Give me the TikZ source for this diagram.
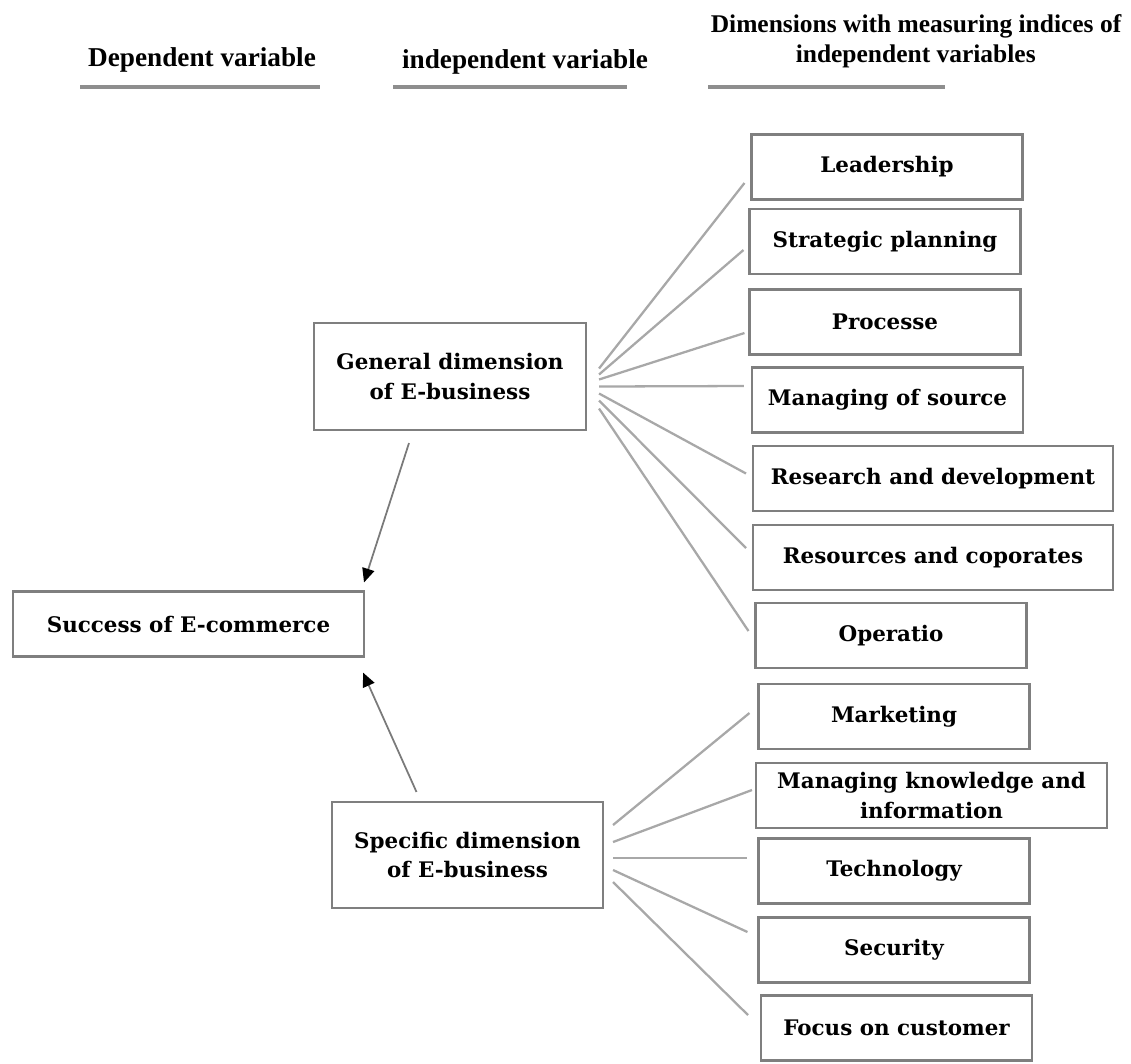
\documentclass[tikz,border=0pt]{standalone}
\usepackage{fontspec}
\setmainfont{DejaVu Serif}
\newfontfamily\headfont{Liberation Serif}
\usepackage{xcolor}
\definecolor{framegray}{HTML}{7F7F7F}
\definecolor{spokegray}{HTML}{A8A8A8}
\definecolor{rulegray}{HTML}{8E8E8E}
\definecolor{arrowgray}{HTML}{7A7A7A}
\usepackage{tikz}
\usetikzlibrary{arrows.meta, positioning, calc}

\begin{document}
\begin{tikzpicture}[
  x=0.02cm, y=-0.02cm,
  box/.style={draw=framegray, line width=1.2pt, fill=white,
    minimum width=#1, minimum height=1.3cm, inner sep=2pt,
    font=\bfseries\fontsize{12.2}{17}\selectfont, align=center},
  box/.default=5.42cm,
  head/.style={font=\headfont\bfseries\fontsize{15.5}{18}\selectfont},
  rulebar/.style={rulegray, line width=2.6pt},
  spoke/.style={spokegray, line width=1.3pt},
  feed/.style={arrowgray, line width=1pt, ->},
  >={Triangle[length=8pt, width=7pt, color=black]}
]
  \useasboundingbox (0,0) rectangle (1131,1063);

  % column headings
  \node[head] (depvar) at (202,60) {Dependent variable};
  \node[head] (indvar) at (525,62) {independent variable};
  \node[head, font=\headfont\bfseries\fontsize{14.5}{17}\selectfont, align=left]
    (dimvar) at (916,41)
    {Dimensions with measuring indices of\\\hspace*{1.7cm}independent variables};
  \draw[rulebar] (80,87) -- (320,87);
  \draw[rulebar] (393,87) -- (627,87);
  \draw[rulebar] (708,87) -- (945,87);

  % left part
  \node[box=7.02cm] (succ) at (188.5,624) {Success of E-commerce};
  \node[box=5.44cm, minimum height=2.14cm] (gen) at (450,376.5)
    {General dimension\\of E-business};
  \node[box=5.42cm, minimum height=2.12cm] (spec) at (467.5,855)
    {Specific dimension\\of E-business};

  % general indices
  \node[box] (lead) at (887,167) {Leadership};
  \node[box] (strat) at (885,241.5) {Strategic planning};
  \node[box] (proc) at (885,322) {Processe};
  \node[box] (msrc) at (887.5,400) {Managing of source};
  \node[box=7.2cm] (resd) at (933,478.5) {Research and development};
  \node[box=7.2cm] (resc) at (933,557.5) {Resources and coporates};
  \node[box] (oper) at (891,635.5) {Operatio};

  % specific indices
  \node[box] (mark) at (894,716.5) {Marketing};
  \node[box=7.02cm] (mknow) at (931.5,795.5) {Managing knowledge and\\information};
  \node[box] (tech) at (894,871) {Technology};
  \node[box] (secu) at (894,950) {Security};
  \node[box] (focus) at (896.5,1028) {Focus on customer};

  \coordinate (genfan) at ($(gen.east)+(12,10)$);
  \coordinate (specfan) at ($(spec.east)+(9,3)$);

  \draw[spoke] ($(genfan)+(0,-18)$) -- ($(lead.west)+(-6,16)$);
  \draw[spoke] ($(genfan)+(0,-12)$) -- ($(strat.west)+(-5,8.5)$);
  \draw[spoke] ($(genfan)+(0,-7)$) -- ($(proc.west)+(-4,11)$);
  \draw[spoke] (genfan) -- ($(msrc.west)+(-7,-14)$);
  \draw[spoke] ($(genfan)+(0,7)$) -- ($(resd.west)+(-6,-5)$);
  \draw[spoke] ($(genfan)+(0,14)$) -- ($(resc.west)+(-6,-9.5)$);
  \draw[spoke] ($(genfan)+(0,22)$) -- ($(oper.west)+(-6,-4.5)$);

  \draw[spoke] ($(specfan)+(0,-33)$) -- ($(mark.west)+(-8,-3.5)$);
  \draw[spoke] ($(specfan)+(0,-16)$) -- ($(mknow.west)+(-3,-5.5)$);
  \draw[spoke] (specfan) -- ($(tech.west)+(-10,-13)$);
  \draw[spoke] ($(specfan)+(0,12)$) -- ($(secu.west)+(-10,-18)$);
  \draw[spoke] ($(specfan)+(0,24)$) -- ($(focus.west)+(-12,-13)$);

  \draw[feed] ($(gen.south)+(-41,12)$) -- ($(succ.north east)+(-1,-8)$);
  \draw[feed] ($(spec.north)+(-51,-9)$) -- ($(succ.south east)+(-2,15)$);
\end{tikzpicture}
\end{document}
